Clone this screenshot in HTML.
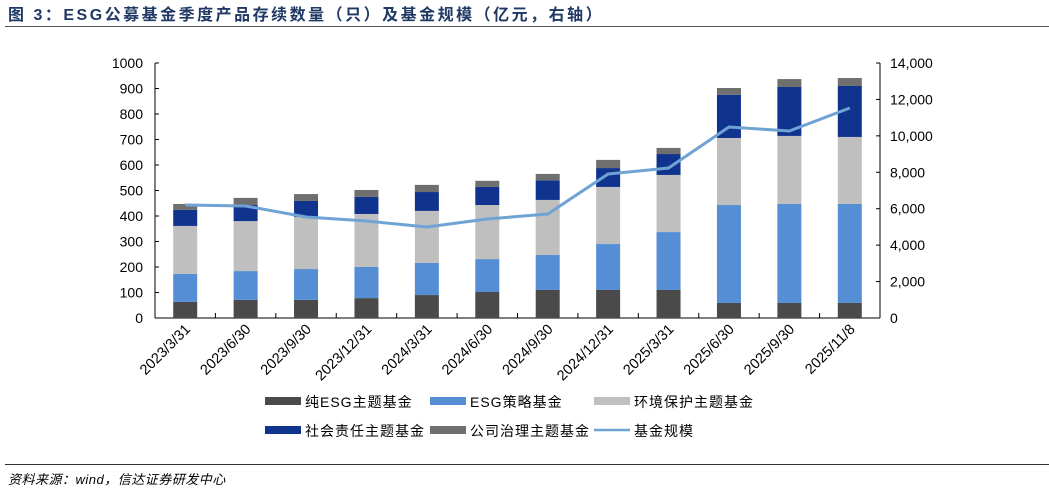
<!DOCTYPE html>
<html><head><meta charset="utf-8">
<style>
body{margin:0;background:#fff;}
svg{display:block;font-family:"Liberation Sans","Noto Sans CJK SC",sans-serif;}
</style></head>
<body>
<svg id="chart" width="1049" height="494" viewBox="0 0 1049 494">
<text x="8" y="20" font-size="16" font-weight="bold" letter-spacing="2.5" fill="#1f3864">图 3：ESG公募基金季度产品存续数量（只）及基金规模（亿元，右轴）</text>
<line x1="5" y1="26.5" x2="1049" y2="26.5" stroke="#555" stroke-width="1"/>
<line x1="5" y1="464.5" x2="1049" y2="464.5" stroke="#333" stroke-width="1"/>
<text x="8" y="484" font-size="13" font-style="italic" letter-spacing="0.5" fill="#000">资料来源：wind，信达证券研发中心</text>
<g id="plot"></g>
<g id="legend"></g>
</svg>
<script>
const categories=["2023/3/31","2023/6/30","2023/9/30","2023/12/31","2024/3/31","2024/6/30","2024/9/30","2024/12/31","2025/3/31","2025/6/30","2025/9/30","2025/11/8"];
const pureESG=[63,71,71,78,90,102,110,110,110,59,59,59];
const strategyESG=[110,113,121,122,126,129,137,180,227,384,388,388];
const environment=[188,196,204,208,204,212,216,224,224,263,267,263];
const social=[63,63,63,67,74,71,77,74,82,169,192,200];
const governance=[23,28,27,27,28,24,25,32,24,27,31,31];
const fundSize=[6204,6150,5545,5325,4996,5435,5710,7906,8235,10486,10267,11530];
const leftTicks=[0,100,200,300,400,500,600,700,800,900,1000];
const rightTicks=[0,2000,4000,6000,8000,10000,12000,14000];
const seriesNames=["纯ESG主题基金","ESG策略基金","环境保护主题基金","社会责任主题基金","公司治理主题基金"];
const seriesData=[pureESG,strategyESG,environment,social,governance];
const colors=["#4a4a4a","#558ed5","#bfbfbf","#10338e","#6f6f6f"];
const lineColor="#6fa3d3";
const NS="http://www.w3.org/2000/svg";
const X0=155,X1=880,Y0=318,Y1=63;
const step=(X1-X0)/categories.length;
function xc(i){return X0+step*(i+0.5);}
function yL(v){return Y0-(v/1000)*(Y0-Y1);}
function yR(v){return Y0-(v/14000)*(Y0-Y1);}
const plot=document.getElementById('plot');
function mk(tag,attrs,parent){const e=document.createElementNS(NS,tag);for(const k in attrs)e.setAttribute(k,attrs[k]);(parent||plot).appendChild(e);return e;}
let ax=mk('line',{x1:X0,y1:Y1,x2:X0,y2:Y0,stroke:'#000'});


ax=mk('line',{x1:X1,y1:Y1,x2:X1,y2:Y0,stroke:'#000'});


ax=mk('line',{x1:X0,y1:Y0,x2:X1,y2:Y0,stroke:'#000'});


leftTicks.forEach(v=>{
  const y=yL(v);
  mk('line',{x1:X0,y1:y,x2:X0+4,y2:y,stroke:'#000'});
  const t=mk('text',{x:X0-12,y:y+5,'font-size':14,'text-anchor':'end',fill:'#000'});
  t.textContent=v;
  
  
});
rightTicks.forEach(v=>{
  const y=yR(v);
  mk('line',{x1:X1,y1:y,x2:X1-4,y2:y,stroke:'#000'});
  const t=mk('text',{x:X1+10,y:y+5,'font-size':14,'text-anchor':'start',fill:'#000'});
  t.textContent=v.toLocaleString('en-US');
  
  
});
for(let i=0;i<=categories.length;i++){
  const x=X0+step*i;
  mk('line',{x1:x,y1:Y0,x2:x,y2:Y0-5,stroke:'#000'});
}
const bw=24;
categories.forEach((c,i)=>{
  let cum=0;
  seriesData.forEach((s,k)=>{
    const yTop=yL(cum+s[i]),yBot=yL(cum);
    const r=mk('rect',{x:xc(i)-bw/2,y:yTop,width:bw,height:yBot-yTop,fill:colors[k]});
    
    
    cum+=s[i];
  });
  const tx=xc(i)+6,ty=Y0+12;
  const t=mk('text',{x:tx,y:ty,'font-size':14.5,'text-anchor':'end',fill:'#000',transform:`rotate(-45 ${tx} ${ty})`});
  t.textContent=c;
  
  
});
const pts=fundSize.map((v,i)=>xc(i)+','+yR(v)).join(' ');
const pl=mk('polyline',{points:pts,fill:'none',stroke:lineColor,'stroke-width':3});


const lg=document.getElementById('legend');
const legendItems=[
 {n:seriesNames[0],c:colors[0],x:265,y:401},
 {n:seriesNames[1],c:colors[1],x:430,y:401},
 {n:seriesNames[2],c:colors[2],x:594,y:401},
 {n:seriesNames[3],c:colors[3],x:265,y:430},
 {n:seriesNames[4],c:colors[4],x:430,y:430},
 {n:"基金规模",c:lineColor,x:594,y:430,line:true}
];
legendItems.forEach(it=>{
  if(it.line){mk('line',{x1:it.x,y1:it.y,x2:it.x+36,y2:it.y,stroke:it.c,'stroke-width':2.5},lg);}
  else{mk('rect',{x:it.x,y:it.y-4,width:36,height:8,fill:it.c},lg);}
  const t=mk('text',{x:it.x+40,y:it.y+6,'font-size':14,'letter-spacing':1,fill:'#000'},lg);
  t.textContent=it.n;
  
  
});
</script>
</body></html>
